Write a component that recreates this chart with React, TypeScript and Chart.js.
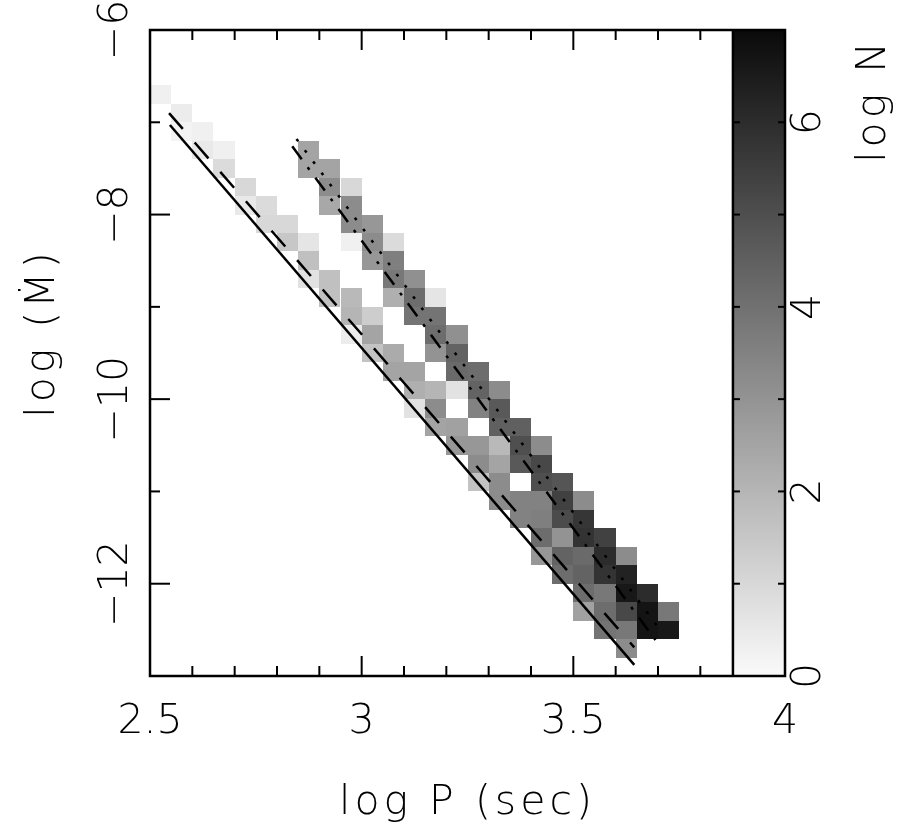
import { useEffect, useRef } from 'react';
import { Chart, registerables } from 'chart.js';

Chart.register(...registerables);

// ---------- data ----------
// 2-D histogram cells: left edge in log P, top edge in log Mdot, value log N
const cellLogP = [
  2.5,
  2.55, 2.55,
  2.6, 2.6,
  2.65, 2.65,
  2.7, 2.7,
  2.75, 2.75,
  2.8, 2.8,
  2.85, 2.85, 2.85, 2.85, 2.85,
  2.9, 2.9, 2.9, 2.9, 2.9,
  2.95, 2.95, 2.95, 2.95, 2.95, 2.95, 2.95,
  3.0, 3.0, 3.0, 3.0, 3.0, 3.0,
  3.05, 3.05, 3.05, 3.05, 3.05, 3.05,
  3.1, 3.1, 3.1, 3.1, 3.1, 3.1,
  3.15, 3.15, 3.15, 3.15, 3.15, 3.15, 3.15,
  3.2, 3.2, 3.2, 3.2, 3.2, 3.2,
  3.25, 3.25, 3.25, 3.25, 3.25, 3.25,
  3.3, 3.3, 3.3, 3.3, 3.3, 3.3, 3.3,
  3.35, 3.35, 3.35, 3.35, 3.35,
  3.4, 3.4, 3.4, 3.4, 3.4, 3.4, 3.4,
  3.45, 3.45, 3.45, 3.45, 3.45, 3.45,
  3.5, 3.5, 3.5, 3.5, 3.5, 3.5, 3.5,
  3.55, 3.55, 3.55, 3.55, 3.55, 3.55,
  3.6, 3.6, 3.6, 3.6, 3.6, 3.6,
  3.65, 3.65, 3.65,
  3.7, 3.7,
];
const cellLogMdot = [
  -6.6,
  -6.8, -7.0,
  -7.0, -7.2,
  -7.2, -7.4,
  -7.6, -7.8,
  -7.8, -8.0,
  -8.0, -8.2,
  -7.2, -7.4, -8.2, -8.4, -8.6,
  -7.4, -7.6, -7.8, -8.6, -8.8,
  -7.6, -7.8, -8.0, -8.2, -8.8, -9.0, -9.2,
  -8.0, -8.2, -8.4, -9.0, -9.2, -9.4,
  -8.2, -8.4, -8.6, -8.8, -9.4, -9.6,
  -8.6, -8.8, -9.0, -9.6, -9.8, -10.0,
  -8.8, -9.0, -9.2, -9.4, -9.8, -10.0, -10.2,
  -9.2, -9.4, -9.6, -9.8, -10.2, -10.4,
  -9.6, -9.8, -10.0, -10.4, -10.6, -10.8,
  -9.8, -10.0, -10.2, -10.4, -10.6, -10.8, -11.0,
  -10.2, -10.4, -10.6, -11.0, -11.2,
  -10.4, -10.6, -10.8, -11.0, -11.2, -11.4, -11.6,
  -10.8, -11.0, -11.2, -11.4, -11.6, -11.8,
  -11.0, -11.2, -11.4, -11.6, -11.8, -12.0, -12.2,
  -11.4, -11.6, -11.8, -12.0, -12.2, -12.4,
  -11.6, -11.8, -12.0, -12.2, -12.4, -12.6,
  -12.0, -12.2, -12.4,
  -12.2, -12.4,
];
const cellLogN = [
  0.3,
  0.4, 0.2,
  0.3, 0.5,
  0.3, 0.9,
  1.0, 0.5,
  0.9, 1.0,
  1.0, 1.5,
  2.5, 2.5, 0.6, 1.7, 0.7,
  2.5, 3.2, 2.4, 1.7, 1.7,
  1.0, 3.2, 3.2, 0.3, 1.9, 2.0, 0.4,
  2.9, 3.2, 2.9, 1.3, 2.5, 1.6,
  0.9, 3.6, 3.8, 2.2, 2.3, 2.5,
  3.1, 4.1, 3.9, 2.5, 2.2, 0.7,
  0.6, 3.9, 4.1, 3.0, 2.0, 3.2, 2.5,
  3.1, 4.4, 4.2, 0.7, 2.6, 2.9,
  4.1, 4.4, 3.5, 2.9, 3.2, 1.6,
  3.2, 4.7, 4.5, 1.9, 2.5, 3.2, 3.2,
  4.5, 5.0, 4.7, 3.5, 3.5,
  3.2, 5.2, 5.0, 3.5, 3.6, 4.1, 2.9,
  4.8, 5.4, 5.1, 3.0, 4.4, 4.1,
  3.2, 5.7, 5.8, 4.2, 4.4, 4.1, 2.6,
  5.4, 6.0, 5.8, 3.8, 4.1, 3.9,
  3.2, 6.3, 6.6, 5.2, 3.8, 3.2,
  6.0, 6.7, 6.7,
  3.8, 6.6,
];
const binWidthLogP = 0.05;
const binHeightLogMdot = 0.2;

// model lines (log P, log Mdot end points)
const solidLineP = [2.547, 3.644];
const solidLineM = [-7.03, -12.88];
const dashedLineP = [2.545, 3.644];
const dashedLineM = [-6.9, -12.69];
const dashDotLineP = [2.836, 3.694];
const dashDotLineM = [-7.26, -12.61];
const dottedLineP = [2.846, 3.7];
const dottedLineM = [-7.18, -12.47];

// axes
const xMin = 2.5, xMax = 4;
const yMin = -13, yMax = -6;
const nMin = 0, nMax = 7;
const xTickValues = [2.5, 3, 3.5, 4];
const xTickLabels = ['2.5', '3', '3.5', '4'];
const xMajorMarks = [3, 3.5];
const xMinorMarks = [2.6, 2.7, 2.8, 2.9, 3.1, 3.2, 3.3, 3.4, 3.6, 3.7, 3.8];
const yTickValues = [-12, -10, -8, -6];
const yTickLabels = ['\u221212', '\u221210', '\u22128', '\u22126'];
const yMajorMarks = [-12, -10, -8];
const yMinorMarks = [-11, -9, -7];
const nTickValues = [0, 2, 4, 6];
const nTickLabels = ['0', '2', '4', '6'];
const nMarks = [1, 2, 3, 4, 5, 6];
const colorbarLogP = [3.877, 4.0];

const xTitle = 'log P (sec)';
const yTitle = 'log (\u1E40)';
const nTitle = 'log N';

const FONT_FAMILY = "'DejaVu Sans', 'Liberation Sans', sans-serif";
const TICK_FONT = `200 41px ${FONT_FAMILY}`;

function grayFor(v: number): string {
  const g = Math.round(Math.max(0, Math.min(255, 250 - 34.3 * v)));
  return `rgb(${g},${g},${g})`;
}

const decorPlugin = {
  id: 'decor',
  beforeDatasetsDraw(chart: any) {
    const { ctx, chartArea: a, scales } = chart;
    const xs = scales.x, ys = scales.y, ns = scales.n;
    ctx.save();
    // histogram cells
    for (let i = 0; i < cellLogP.length; i++) {
      const x0 = Math.round(xs.getPixelForValue(cellLogP[i]));
      const x1 = Math.round(xs.getPixelForValue(cellLogP[i] + binWidthLogP));
      const y0 = Math.round(ys.getPixelForValue(cellLogMdot[i]));
      const y1 = Math.round(ys.getPixelForValue(cellLogMdot[i] - binHeightLogMdot));
      ctx.fillStyle = grayFor(cellLogN[i]);
      ctx.fillRect(x0, y0, x1 - x0, y1 - y0);
    }
    // colour bar
    const cbL = xs.getPixelForValue(colorbarLogP[0]);
    const cbR = xs.getPixelForValue(colorbarLogP[1]);
    const grad = ctx.createLinearGradient(0, ns.getPixelForValue(nMin), 0, ns.getPixelForValue(nMax));
    grad.addColorStop(0, grayFor(nMin));
    grad.addColorStop(1, grayFor(nMax));
    ctx.fillStyle = grad;
    ctx.fillRect(cbL, a.top, cbR - cbL, a.bottom - a.top);
    ctx.restore();
  },
  afterDatasetsDraw(chart: any) {
    const { ctx, chartArea: a, scales } = chart;
    const xs = scales.x, ys = scales.y, ns = scales.n;
    ctx.save();
    ctx.strokeStyle = '#000';
    ctx.lineWidth = 2.5;
    ctx.lineCap = 'butt';
    // frame
    ctx.strokeRect(a.left, a.top, a.right - a.left, a.bottom - a.top);
    const cbL = xs.getPixelForValue(colorbarLogP[0]);
    const cbR = xs.getPixelForValue(colorbarLogP[1]);
    ctx.beginPath();
    ctx.moveTo(cbL, a.top);
    ctx.lineTo(cbL, a.bottom);
    ctx.stroke();

    ctx.lineWidth = 2;
    const line = (x0: number, y0: number, x1: number, y1: number) => {
      ctx.beginPath();
      ctx.moveTo(x0, y0);
      ctx.lineTo(x1, y1);
      ctx.stroke();
    };
    // x ticks (bottom & top)
    xMajorMarks.forEach((v) => {
      const px = xs.getPixelForValue(v);
      line(px, a.bottom, px, a.bottom - 20);
      line(px, a.top, px, a.top + 20);
    });
    xMinorMarks.forEach((v) => {
      const px = xs.getPixelForValue(v);
      line(px, a.bottom, px, a.bottom - 10);
      line(px, a.top, px, a.top + 10);
    });
    // y ticks (left)
    yMajorMarks.forEach((v) => {
      const py = ys.getPixelForValue(v);
      line(a.left, py, a.left + 20, py);
    });
    yMinorMarks.forEach((v) => {
      const py = ys.getPixelForValue(v);
      line(a.left, py, a.left + 10, py);
    });
    // colour bar ticks
    nMarks.forEach((v) => {
      const py = ns.getPixelForValue(v);
      line(cbL, py, cbL + 7, py);
      line(cbR, py, cbR - 7, py);
    });

    // labels
    ctx.fillStyle = '#000';
    ctx.font = TICK_FONT;
    ctx.textAlign = 'center';
    ctx.textBaseline = 'alphabetic';
    xTickValues.forEach((v, i) => {
      ctx.fillText(xTickLabels[i], xs.getPixelForValue(v), a.bottom + 57);
    });
    yTickValues.forEach((v, i) => {
      ctx.save();
      ctx.translate(a.left - 23, ys.getPixelForValue(v));
      ctx.rotate(-Math.PI / 2);
      ctx.fillText(yTickLabels[i], 0, 0);
      ctx.restore();
    });
    nTickValues.forEach((v, i) => {
      ctx.save();
      ctx.translate(cbR + 35, ns.getPixelForValue(v));
      ctx.rotate(-Math.PI / 2);
      ctx.fillText(nTickLabels[i], 0, 0);
      ctx.restore();
    });

    // titles
    (ctx as any).letterSpacing = '4px';
    ctx.textAlign = 'center';
    ctx.fillText(xTitle, (a.left + a.right) / 2, a.bottom + 138);
    ctx.save();
    ctx.translate(54, 333);
    ctx.rotate(-Math.PI / 2);
    ctx.fillText(yTitle, 0, 0);
    ctx.restore();
    ctx.save();
    ctx.translate(cbR + 100, a.top + 8);
    ctx.rotate(-Math.PI / 2);
    ctx.textAlign = 'right';
    ctx.fillText(nTitle, 0, 0);
    ctx.restore();
    (ctx as any).letterSpacing = '0px';
    ctx.restore();
  },
};

function toPoints(ps: number[], ms: number[]) {
  return ps.map((p, i) => ({ x: p, y: ms[i] }));
}

export default function App() {
  const ref = useRef<HTMLCanvasElement | null>(null);
  useEffect(() => {
    if (!ref.current) return;
    const common = { showLine: true, pointRadius: 0, borderColor: '#000', fill: false, borderWidth: 2.5 };
    const chart = new Chart(ref.current, {
      type: 'scatter',
      data: {
        datasets: [
          { ...common, label: 'solid', data: toPoints(solidLineP, solidLineM) },
          { ...common, label: 'dashed', data: toPoints(dashedLineP, dashedLineM), borderDash: [21, 18] },
          { ...common, label: 'dash-dot', data: toPoints(dashDotLineP, dashDotLineM), borderDash: [16, 10, 3, 10] },
          { ...common, label: 'dotted', data: toPoints(dottedLineP, dottedLineM), borderDash: [3, 11] },
        ],
      } as any,
      options: {
        animation: false,
        responsive: false,
        events: [],
        layout: { padding: { left: 150, right: 126, top: 30, bottom: 154 } },
        plugins: { legend: { display: false }, tooltip: { enabled: false } },
        scales: {
          x: { type: 'linear', min: xMin, max: xMax, display: false },
          y: { type: 'linear', min: yMin, max: yMax, display: false },
          n: { type: 'linear', axis: 'y', position: 'right', min: nMin, max: nMax, display: false },
        },
      } as any,
      plugins: [decorPlugin],
    });
    return () => chart.destroy();
  }, []);
  return (
    <div style={{ position: 'absolute', left: 0, top: 0, width: 911, height: 830, background: '#fff' }}>
      <canvas ref={ref} width={911} height={830} style={{ display: 'block' }} />
    </div>
  );
}
